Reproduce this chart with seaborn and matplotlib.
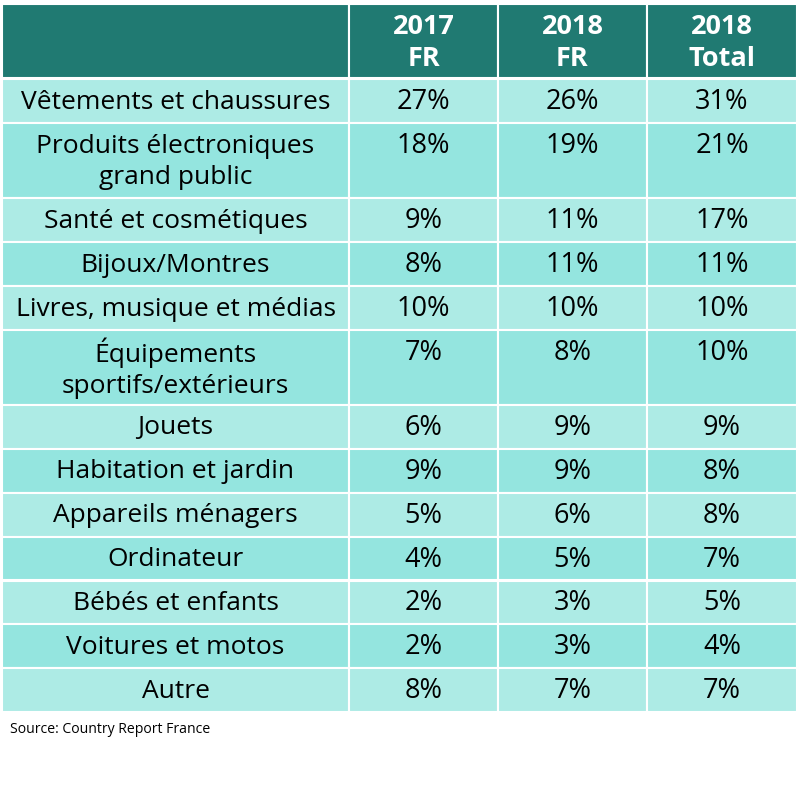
import matplotlib.pyplot as plt
import seaborn as sns

categories = [
    "Vêtements et chaussures",
    "Produits électroniques\ngrand public",
    "Santé et cosmétiques",
    "Bijoux/Montres",
    "Livres, musique et médias",
    "Équipements\nsportifs/extérieurs",
    "Jouets",
    "Habitation et jardin",
    "Appareils ménagers",
    "Ordinateur",
    "Bébés et enfants",
    "Voitures et motos",
    "Autre",
]
fr_2017 = [27, 18, 9, 8, 10, 7, 6, 9, 5, 4, 2, 2, 8]
fr_2018 = [26, 19, 11, 11, 10, 8, 9, 9, 6, 5, 3, 3, 7]
total_2018 = [31, 21, 17, 11, 10, 10, 9, 8, 8, 7, 5, 4, 7]
headers = ["", "2017\nFR", "2018\nFR", "2018\nTotal"]
source = "Source: Country Report France"

sns.set_theme(style="white")
plt.rcParams["font.family"] = ["Open Sans", "DejaVu Sans"]

HEAD = "#207A72"
LIGHT = "#ADEBE5"
DARK = "#94E5DF"

fig = plt.figure(figsize=(8, 8.05), dpi=100)
ax = fig.add_axes([0, 0, 1, 1])
ax.set_xlim(0, 800)
ax.set_ylim(805, 0)
ax.axis("off")

col_left = [2, 349, 498, 647]
col_right = [349, 498, 647, 797]
single_h, line_h = 43.9, 31

# header
head_top, head_bot = 4, 78
for j in range(4):
    ax.barh((head_top + head_bot) / 2, col_right[j] - col_left[j], left=col_left[j],
            height=head_bot - head_top, color=HEAD, edgecolor="white", linewidth=1.5)
    if headers[j]:
        ax.text((col_left[j] + col_right[j]) / 2, (head_top + head_bot) / 2 + 2, headers[j],
                ha="center", va="center", color="white", fontsize=19.5, fontweight="bold",
                linespacing=1.25)

y = 79.5
values = list(zip(fr_2017, fr_2018, total_2018))
for i, label in enumerate(categories):
    n_lines = label.count("\n") + 1
    h = single_h + (n_lines - 1) * line_h
    color = LIGHT if i % 2 == 0 else DARK
    for j in range(4):
        ax.barh(y + h / 2, col_right[j] - col_left[j], left=col_left[j], height=h,
                color=color, edgecolor="white", linewidth=1.5)
    ax.text((col_left[0] + col_right[0]) / 2, y + h / 2 + 1, label, ha="center", va="center",
            fontsize=19, color="black", linespacing=1.3)
    for j, v in enumerate(values[i], start=1):
        ax.text((col_left[j] + col_right[j]) / 2, y + single_h / 2 + 1, f"{v}%",
                ha="center", va="center", fontsize=19.5, color="black")
    y += h

ax.text(10, 729, source, ha="left", va="center", fontsize=10.1, color="black")

fig.savefig("out.png", dpi=100)
